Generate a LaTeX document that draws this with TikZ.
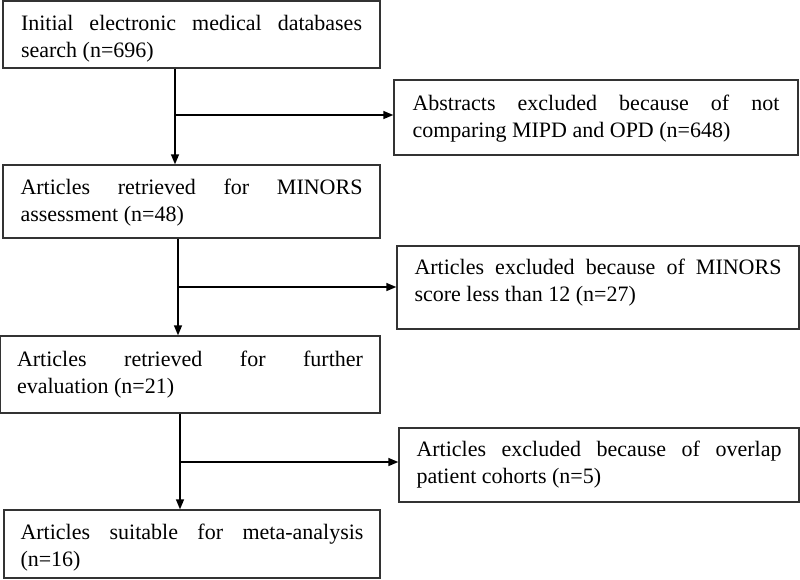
\documentclass[tikz,border=0pt]{standalone}
\usepackage{fontspec}
\setmainfont{Liberation Serif}
\usetikzlibrary{arrows.meta}
\newcommand{\flowtext}[3]{\raisebox{#1}[\height][\depth]{\parbox{#2}{\hyphenpenalty=10000 #3}}}
\begin{document}
\begin{tikzpicture}[x=1pt,y=1pt,
  flowbox/.style={draw=black!80, line width=1.4pt, inner xsep=0pt, inner ysep=0pt,
    font=\fontsize{22}{27}\selectfont, text=black},
  arr/.style={line width=1.5pt, -{Triangle[length=10pt,width=8pt]}}]
\useasboundingbox (0,0) rectangle (800,-579);
\node[flowbox, minimum width=377pt, minimum height=67pt] (b1) at (191.5,-34.5)
  {\flowtext{-4.5pt}{341pt}{Initial electronic medical databases\linebreak search (n=696)}};
\node[flowbox, minimum width=404pt, minimum height=75pt] (b2) at (596,-117.5)
  {\flowtext{-1pt}{367pt}{Abstracts excluded because of not\linebreak comparing MIPD and OPD (n=648)}};
\node[flowbox, minimum width=377pt, minimum height=73pt] (b3) at (191.5,-201.5)
  {\flowtext{-1.5pt}{342pt}{Articles retrieved for MINORS\linebreak assessment (n=48)}};
\node[flowbox, minimum width=402pt, minimum height=83pt] (b4) at (598,-287.5)
  {\flowtext{4.5pt}{367pt}{Articles excluded because of MINORS\linebreak score less than 12 (n=27)}};
\node[flowbox, minimum width=380pt, minimum height=77pt] (b5) at (190,-374.5)
  {\flowtext{0pt}{346pt}{Articles retrieved for further\linebreak evaluation (n=21)}};
\node[flowbox, minimum width=400pt, minimum height=74pt] (b6) at (599,-465)
  {\flowtext{0pt}{365pt}{Articles excluded because of overlap\linebreak patient cohorts (n=5)}};
\node[flowbox, minimum width=376pt, minimum height=68pt] (b7) at (192,-544)
  {\flowtext{-4pt}{343pt}{Articles suitable for meta-analysis\linebreak (n=16)}};
\coordinate (j1) at (175,-115);
\coordinate (j2) at (178,-287);
\coordinate (j3) at (180,-462);
\draw[arr] (b1.south -| j1) -- (b3.north -| j1);
\draw[arr] (j1) -- (b2.west |- j1);
\draw[arr] (b3.south -| j2) -- (b5.north -| j2);
\draw[arr] (j2) -- (b4.west |- j2);
\draw[arr] (b5.south -| j3) -- (b7.north -| j3);
\draw[arr] (j3) -- (b6.west |- j3);
\end{tikzpicture}
\end{document}
